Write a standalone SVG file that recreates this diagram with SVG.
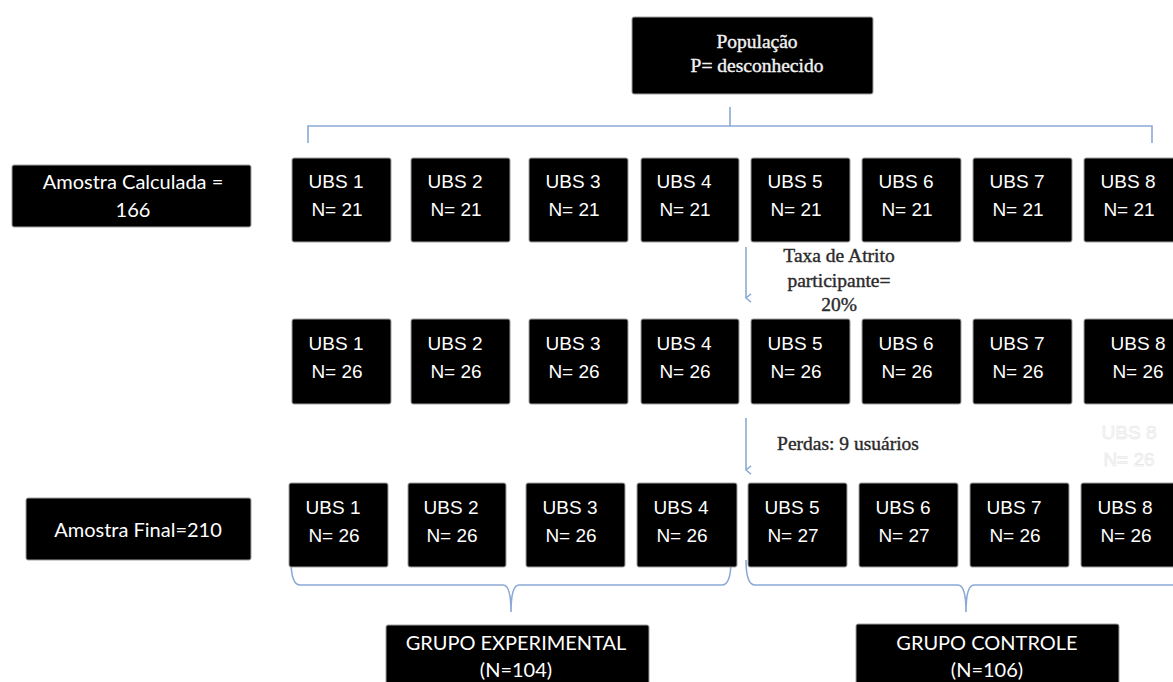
<svg xmlns="http://www.w3.org/2000/svg" width="1173" height="682" viewBox="0 0 1173 682">
<style>
.box{fill:#000;stroke:#a0a0a0;stroke-width:1}
.ubs{font-family:"Liberation Sans",Arial,sans-serif;font-size:19px;fill:#fff;text-anchor:middle}
.cal{font-family:Lato,"Open Sans",sans-serif;font-size:20px;fill:#fff;text-anchor:middle}
.ser{font-family:"Liberation Serif","DejaVu Serif",serif;font-size:19.5px;stroke-width:0.4;text-anchor:middle}
.dk{fill:#2b2b2b;stroke:#2b2b2b}
.lt{fill:#f2f2f2;stroke:#f2f2f2}
.con{fill:none;stroke:#8aa9d6;stroke-width:1.6}
.ghost{font-family:"Liberation Sans",Arial,sans-serif;font-size:19px;fill:#fff;stroke:#e2e2e2;stroke-width:0.6;text-anchor:middle}
</style>
<defs>
<marker id="arr" viewBox="0 0 12 12" refX="6" refY="11" markerWidth="11" markerHeight="11" markerUnits="userSpaceOnUse" orient="auto-start-reverse">
<path d="M1.5,5.5 L6,11 L10.5,5.5" fill="none" stroke="#8aa9d6" stroke-width="1.5"/>
</marker>
</defs>
<rect width="1173" height="682" fill="#fff"/>

<g id="connectors">
<path class="con" d="M730,107 V126 M308,143 V126 H1152 V143"/>
<path class="con" d="M746,247 V298" marker-end="url(#arr)"/>
<path class="con" d="M746,418 V470" marker-end="url(#arr)"/>
<path class="con" d="M291,560 Q291,585 300,585 L503,585 Q511,585 511,612 Q511,585 519,585 L722,585 Q731,585 731,560"/>
<path class="con" d="M746,560 Q746,585 755,585 L958,585 Q966,585 966,612 Q966,585 974,585 L1175,585"/>
</g>

<g id="populacao">
<rect class="box" x="632" y="17" width="241" height="77" rx="2"/>
<text class="ser lt" x="757" y="48">População</text>
<text class="ser lt" x="757" y="72">P= desconhecido</text>
</g>

<g id="amostra-calculada">
<rect class="box" x="12" y="165" width="239" height="62" rx="2"/>
<text class="cal" x="133" y="189">Amostra Calculada =</text>
<text class="cal" x="133" y="217">166</text>
</g>

<g id="amostra-final">
<rect class="box" x="26" y="498" width="225" height="62" rx="2"/>
<text class="cal" x="138" y="537">Amostra Final=210</text>
</g>

<g id="row1">
<g id="r1-ubs1"><rect class="box" x="292" y="158" width="99" height="84" rx="2"/><text class="ubs" x="336" y="188">UBS 1</text><text class="ubs" x="337" y="216">N= 21</text></g>
<g id="r1-ubs2"><rect class="box" x="411" y="158" width="99" height="84" rx="2"/><text class="ubs" x="455" y="188">UBS 2</text><text class="ubs" x="456" y="216">N= 21</text></g>
<g id="r1-ubs3"><rect class="box" x="529" y="158" width="99" height="84" rx="2"/><text class="ubs" x="573" y="188">UBS 3</text><text class="ubs" x="574" y="216">N= 21</text></g>
<g id="r1-ubs4"><rect class="box" x="641" y="158" width="98" height="84" rx="2"/><text class="ubs" x="684" y="188">UBS 4</text><text class="ubs" x="685" y="216">N= 21</text></g>
<g id="r1-ubs5"><rect class="box" x="751" y="158" width="99" height="84" rx="2"/><text class="ubs" x="795" y="188">UBS 5</text><text class="ubs" x="796" y="216">N= 21</text></g>
<g id="r1-ubs6"><rect class="box" x="862" y="158" width="99" height="84" rx="2"/><text class="ubs" x="906" y="188">UBS 6</text><text class="ubs" x="907" y="216">N= 21</text></g>
<g id="r1-ubs7"><rect class="box" x="973" y="158" width="99" height="84" rx="2"/><text class="ubs" x="1017" y="188">UBS 7</text><text class="ubs" x="1018" y="216">N= 21</text></g>
<g id="r1-ubs8"><rect class="box" x="1084" y="158" width="99" height="84" rx="2"/><text class="ubs" x="1128" y="188">UBS 8</text><text class="ubs" x="1129" y="216">N= 21</text></g>
</g>

<g id="taxa-label">
<text class="ser dk" x="839" y="262">Taxa de Atrito</text>
<text class="ser dk" x="839" y="287">participante=</text>
<text class="ser dk" x="839" y="311">20%</text>
</g>

<g id="row2">
<g id="r2-ubs1"><rect class="box" x="292" y="319" width="99" height="85" rx="2"/><text class="ubs" x="336" y="350">UBS 1</text><text class="ubs" x="337" y="378">N= 26</text></g>
<g id="r2-ubs2"><rect class="box" x="411" y="319" width="99" height="85" rx="2"/><text class="ubs" x="455" y="350">UBS 2</text><text class="ubs" x="456" y="378">N= 26</text></g>
<g id="r2-ubs3"><rect class="box" x="529" y="319" width="99" height="85" rx="2"/><text class="ubs" x="573" y="350">UBS 3</text><text class="ubs" x="574" y="378">N= 26</text></g>
<g id="r2-ubs4"><rect class="box" x="641" y="319" width="98" height="85" rx="2"/><text class="ubs" x="684" y="350">UBS 4</text><text class="ubs" x="685" y="378">N= 26</text></g>
<g id="r2-ubs5"><rect class="box" x="751" y="319" width="99" height="85" rx="2"/><text class="ubs" x="795" y="350">UBS 5</text><text class="ubs" x="796" y="378">N= 26</text></g>
<g id="r2-ubs6"><rect class="box" x="862" y="319" width="99" height="85" rx="2"/><text class="ubs" x="906" y="350">UBS 6</text><text class="ubs" x="907" y="378">N= 26</text></g>
<g id="r2-ubs7"><rect class="box" x="973" y="319" width="99" height="85" rx="2"/><text class="ubs" x="1017" y="350">UBS 7</text><text class="ubs" x="1018" y="378">N= 26</text></g>
<g id="r2-ubs8"><rect class="box" x="1084" y="319" width="99" height="85" rx="2"/><text class="ubs" x="1138" y="350">UBS 8</text><text class="ubs" x="1138" y="378">N= 26</text></g>
</g>

<g id="ghost-ubs8">
<text class="ghost" x="1129" y="439">UBS 8</text>
<text class="ghost" x="1129" y="466">N= 26</text>
</g>

<g id="perdas-label">
<text class="ser dk" x="848" y="450">Perdas: 9 usuários</text>
</g>

<g id="row3">
<g id="r3-ubs1"><rect class="box" x="289" y="483" width="99" height="84" rx="2"/><text class="ubs" x="333" y="514">UBS 1</text><text class="ubs" x="334" y="542">N= 26</text></g>
<g id="r3-ubs2"><rect class="box" x="408" y="483" width="98" height="84" rx="2"/><text class="ubs" x="451" y="514">UBS 2</text><text class="ubs" x="452" y="542">N= 26</text></g>
<g id="r3-ubs3"><rect class="box" x="526" y="483" width="99" height="84" rx="2"/><text class="ubs" x="570" y="514">UBS 3</text><text class="ubs" x="571" y="542">N= 26</text></g>
<g id="r3-ubs4"><rect class="box" x="637" y="483" width="100" height="84" rx="2"/><text class="ubs" x="681" y="514">UBS 4</text><text class="ubs" x="682" y="542">N= 26</text></g>
<g id="r3-ubs5"><rect class="box" x="748" y="483" width="99" height="84" rx="2"/><text class="ubs" x="792" y="514">UBS 5</text><text class="ubs" x="793" y="542">N= 27</text></g>
<g id="r3-ubs6"><rect class="box" x="859" y="483" width="99" height="84" rx="2"/><text class="ubs" x="903" y="514">UBS 6</text><text class="ubs" x="904" y="542">N= 27</text></g>
<g id="r3-ubs7"><rect class="box" x="970" y="483" width="99" height="84" rx="2"/><text class="ubs" x="1014" y="514">UBS 7</text><text class="ubs" x="1015" y="542">N= 26</text></g>
<g id="r3-ubs8"><rect class="box" x="1081" y="483" width="99" height="84" rx="2"/><text class="ubs" x="1125" y="514">UBS 8</text><text class="ubs" x="1126" y="542">N= 26</text></g>
</g>

<g id="grupo-experimental">
<rect class="box" x="386" y="625" width="263" height="70" rx="2"/>
<text class="cal" x="516" y="650">GRUPO EXPERIMENTAL</text>
<text class="cal" x="516" y="677">(N=104)</text>
</g>

<g id="grupo-controle">
<rect class="box" x="856" y="624" width="263" height="70" rx="2"/>
<text class="cal" x="987" y="650">GRUPO CONTROLE</text>
<text class="cal" x="987" y="677">(N=106)</text>
</g>
</svg>
